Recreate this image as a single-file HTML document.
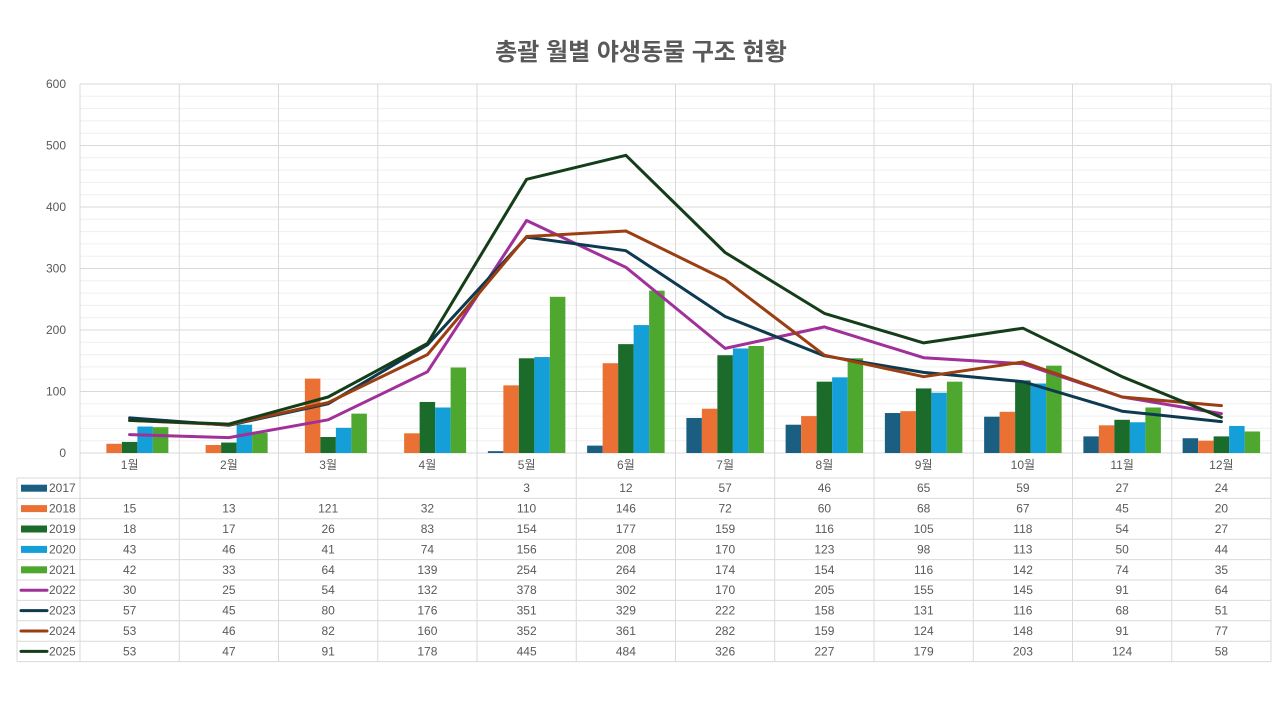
<!DOCTYPE html>
<html><head><meta charset="utf-8"><style>
body{margin:0;background:#fff;}
svg text{font-family:"Liberation Sans","Noto Sans CJK KR",sans-serif;}
</style></head><body>
<svg id="c" width="1280" height="720" xmlns="http://www.w3.org/2000/svg">
<text x="641" y="60" text-anchor="middle" font-size="24" font-weight="bold" fill="#595959">총괄 월별 야생동물 구조 현황</text>
</svg>
<script>
const S=document.getElementById('c');
const NS='http://www.w3.org/2000/svg';
function el(t,a,txt){const e=document.createElementNS(NS,t);for(const k in a)e.setAttribute(k,a[k]);if(txt!=null)e.textContent=txt;S.appendChild(e);return e;}
const series=[
["2017","#1a5e82","bar",[null,null,null,null,3,12,57,46,65,59,27,24]],
["2018","#ea7133","bar",[15,13,121,32,110,146,72,60,68,67,45,20]],
["2019","#1b6b2a","bar",[18,17,26,83,154,177,159,116,105,118,54,27]],
["2020","#149fd8","bar",[43,46,41,74,156,208,170,123,98,113,50,44]],
["2021","#4ea72e","bar",[42,33,64,139,254,264,174,154,116,142,74,35]],
["2022","#a0309a","line",[30,25,54,132,378,302,170,205,155,145,91,64]],
["2023","#0e3a4f","line",[57,45,80,176,351,329,222,158,131,116,68,51]],
["2024","#9b3f13","line",[53,46,82,160,352,361,282,159,124,148,91,77]],
["2025","#143d19","line",[53,47,91,178,445,484,326,227,179,203,124,58]]];
const X0=80,X1=1271,W=(X1-X0)/12,Y0=453,K=0.615,T0=478,RH=20.4;
const y=v=>Y0-v*K;
for(let v=20;v<=600;v+=20){if(v%100)el('line',{x1:X0,x2:X1,y1:y(v),y2:y(v),stroke:'#efefef','stroke-width':1});}
for(let v=100;v<=600;v+=100){el('line',{x1:X0,x2:X1,y1:y(v),y2:y(v),stroke:'#d9d9d9','stroke-width':1});}
for(let v=0;v<=600;v+=100)el('text',{x:66,y:y(v)+4,'text-anchor':'end','font-size':12,fill:'#595959'},String(v));
for(let i=0;i<=12;i++){const x=X0+i*W;el('line',{x1:x,x2:x,y1:y(600),y2:T0+9*RH,stroke:'#d9d9d9'});}
el('line',{x1:X0,x2:X1,y1:Y0,y2:Y0,stroke:'#d9d9d9'});
el('line',{x1:17,x2:17,y1:T0,y2:T0+9*RH,stroke:'#d9d9d9'});
for(let r=0;r<=9;r++)el('line',{x1:17,x2:X1,y1:T0+r*RH,y2:T0+r*RH,stroke:'#d9d9d9'});
el('line',{x1:X1,x2:X1,y1:Y0,y2:T0+9*RH,stroke:'#d9d9d9'});
for(let i=0;i<12;i++)el('text',{x:X0+(i+.5)*W,y:469,'text-anchor':'middle','font-size':12,fill:'#595959'},(i+1)+'월');
const bw=15.5;
series.forEach((s,si)=>{if(s[2]!='bar')return;s[3].forEach((v,i)=>{if(v==null)return;const cx=X0+(i+.5)*W;const x=cx-2.5*bw+si*bw;el('rect',{x:x,y:y(v),width:bw,height:v*K,fill:s[1]});});});
series.forEach(s=>{if(s[2]!='line')return;const p=s[3].map((v,i)=>(X0+(i+.5)*W).toFixed(1)+','+y(v).toFixed(1)).join(' ');el('polyline',{points:p,fill:'none',stroke:s[1],'stroke-width':3,'stroke-linejoin':'round','stroke-linecap':'round'});});
series.forEach((s,r)=>{const cy=T0+r*RH+RH/2;
 if(s[2]=='bar')el('rect',{x:21,y:cy-3.5,width:26,height:7,fill:s[1]});
 else el('line',{x1:21,x2:47,y1:cy,y2:cy,stroke:s[1],'stroke-width':3,'stroke-linecap':'round'});
 el('text',{x:49,y:cy+4,'font-size':12,fill:'#595959'},s[0]);
 s[3].forEach((v,i)=>{if(v==null)return;el('text',{x:X0+(i+.5)*W,y:cy+4,'text-anchor':'middle','font-size':12,fill:'#595959'},String(v));});
});
</script>
</body></html>
